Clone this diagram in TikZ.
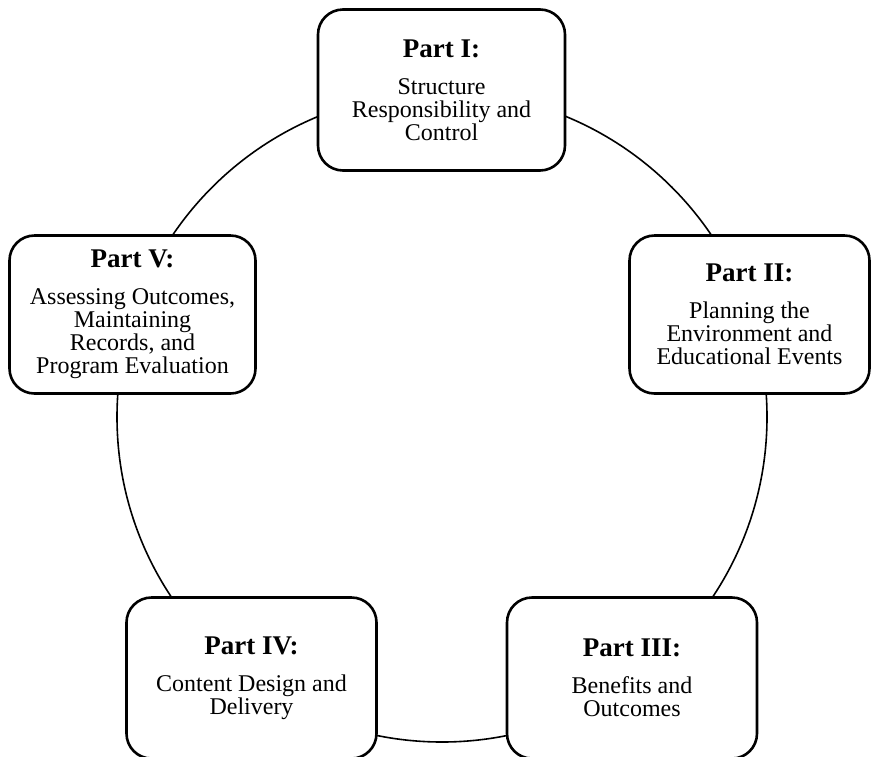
\documentclass[tikz,border=0pt]{standalone}
\usepackage{fontspec}
\setmainfont{Liberation Serif}
\begin{document}
\begin{tikzpicture}[x=1pt,y=-1pt,
  partbox/.style={draw=black, line width=2.6pt, fill=white, rounded corners=25pt,
    align=center, inner sep=0pt, font=\fontsize{24}{23}\selectfont},
  ring/.style={draw=black, line width=1.6pt}]
\newcommand\parthead[1]{{\fontsize{27}{23}\selectfont\bfseries #1}}
\useasboundingbox (0,0) rectangle (872,756);
\fill[white] (0,0) rectangle (872,756);
\coordinate (c) at (442,417);
\draw[ring] (c) circle[radius=325pt];
\node[partbox, minimum width=247pt, minimum height=161pt] (p1) at (441.5,90)
  {\parthead{Part I:}\\[14pt]Structure\\Responsibility and\\Control};
\node[partbox, minimum width=240pt, minimum height=158pt] (p2) at (749.5,314.5)
  {\parthead{Part II:}\\[14pt]Planning the\\Environment and\\Educational Events};
\node[partbox, minimum width=250pt, minimum height=161pt] (p3) at (632,678)
  {\parthead{Part III:}\\[14pt]Benefits and\\Outcomes};
\node[partbox, minimum width=250pt, minimum height=161pt] (p4) at (251.5,678)
  {\parthead{Part IV:}\\[14pt]Content Design and\\Delivery};
\node[partbox, minimum width=246pt, minimum height=158pt] (p5) at (132.5,314.5)
  {\parthead{Part V:}\\[14pt]Assessing Outcomes,\\Maintaining\\Records, and\\Program Evaluation};
\end{tikzpicture}
\end{document}
